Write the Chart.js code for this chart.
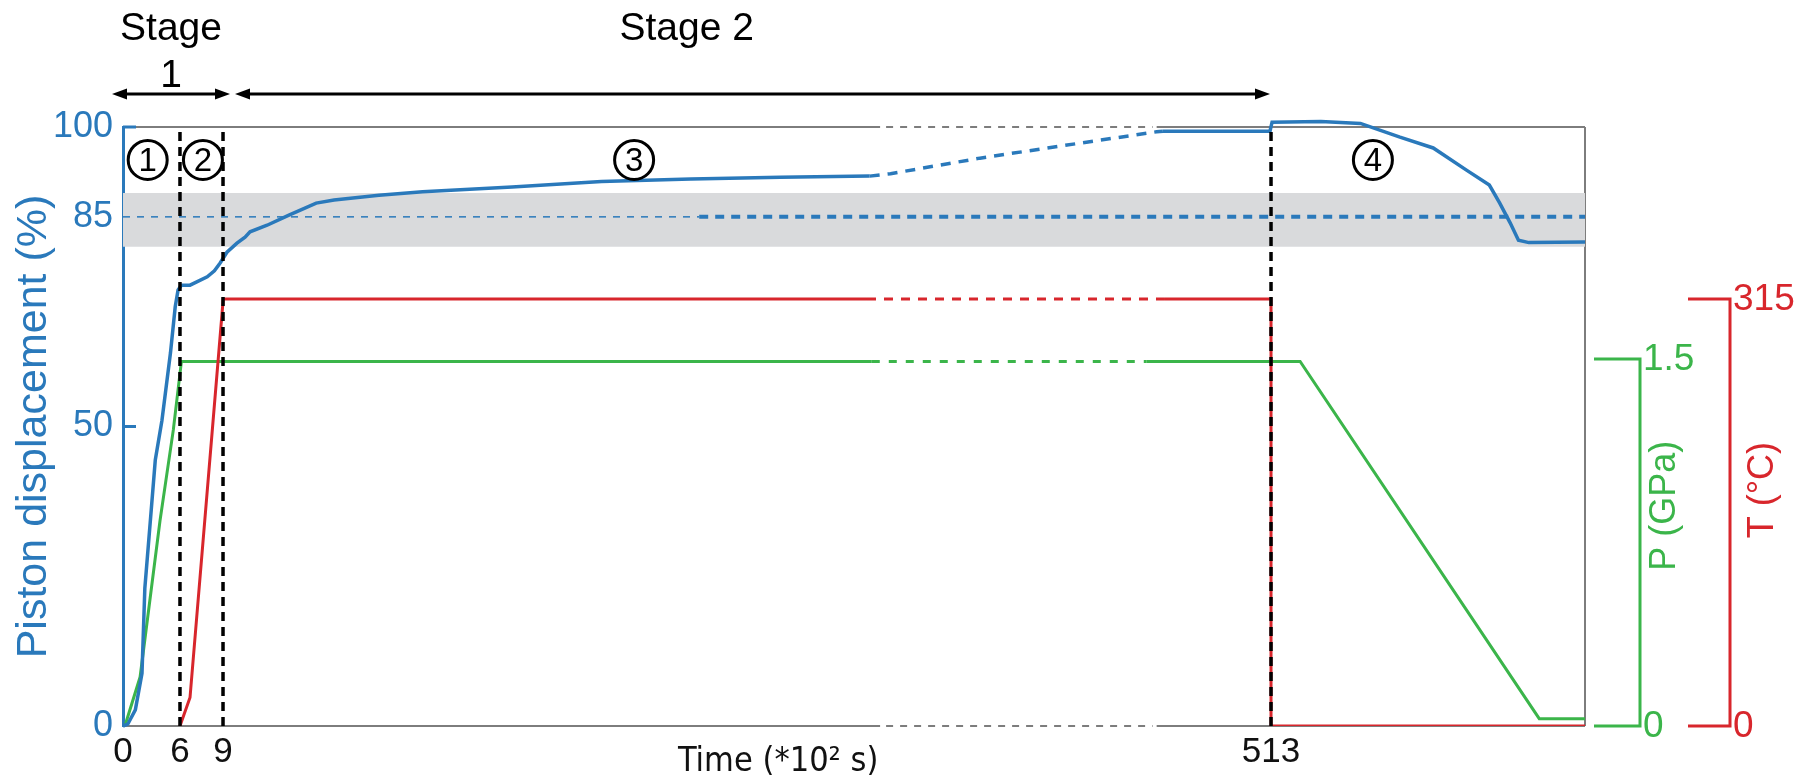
<!DOCTYPE html>
<html>
<head>
<meta charset="utf-8">
<title>Piston displacement, pressure and temperature</title>
<script src="https://cdn.jsdelivr.net/npm/chart.js@4.4.1/dist/chart.umd.min.js"></script>
<style>
  html, body { margin: 0; padding: 0; background: #fff; }
  #chart { display: block; }
</style>
</head>
<body>
<canvas id="chart" width="1812" height="778"></canvas>
<script>
// Broken time axis (*10^2 s): 0-6-9 stretched, long hold compressed
const TIME_BREAKS = [0, 6, 9, 664];
const AXIS_BREAKS = [0, 27.4, 48.1, 703.1];
const TIME_TICKS = [0, 6, 9, 513];
const TIME_GAP = [325, 458];     // part of the frame drawn dashed
const SERIES_GAP = [318, 462];   // part of the curves drawn dashed

const DISP_TICKS = [0, 50, 85, 100];
const PRESSURE_TICKS = [0, 1.5];
const TEMP_TICKS = [0, 315];

// Piston displacement (%)
const dispTime = [0, 0.5, 1.3, 2.0, 2.3, 2.8, 3.4, 4.1, 5.0, 5.5, 5.8, 6.1, 6.7, 7.9, 8.4, 8.8,
  10.9, 15.7, 19.6, 22, 30.2, 40.7, 53.8, 62.4, 84, 105, 148, 191, 234, 277, 320,
  330, 373, 421, 458, 461, 512.5, 513.5, 537, 556, 575, 591, 607, 618, 623, 628, 632, 637, 664];
const dispValue = [0, 0.3, 2.7, 8.8, 23, 32.7, 44.4, 51, 62.3, 70, 72.8, 73.6, 73.6, 75, 76, 77.3,
  79.1, 80.6, 81.6, 82.5, 83.6, 85.3, 87.3, 87.8, 88.6, 89.2, 90.0, 90.9, 91.3, 91.6, 91.8,
  92.2, 94.8, 97.3, 99.2, 99.3, 99.3, 100.8, 100.9, 100.6, 98.3, 96.5, 92.8, 90.3, 87.3, 84, 81.1, 80.7, 80.8];

// Pressure (GPa)
const presTime = [0.2, 1.8, 3.9, 5.3, 6.1, 321, 453, 527, 642, 664];
const presValue = [0, 0.2, 0.84, 1.21, 1.49, 1.49, 1.49, 1.49, 0.03, 0.03];

// Temperature (°C)
const tempTime = [6, 6.7, 9.1, 318.7, 462, 513, 513, 664];
const tempValue = [0, 21, 315, 315, 315, 315, 0, 0];

// 85 % level, grey band, stage boundaries
const refLevel = 85;
const refBreak = 238;
const bandRange = [80, 89];
const stageMarks = [6, 9, 513];
const stageBounds = [0, 9, 513];
const phaseLabels = ['1', '2', '3', '4'];
const phaseTimes = [2.6, 7.6, 206.7, 562];
const phaseLevel = 94.5;

const BLUE = '#2a79bb';
const GREEN = '#3bb54a';
const RED = '#d8262c';
const FONT = "'Liberation Sans', Arial, Helvetica, sans-serif";
const NARROW = "'Liberation Sans Narrow', 'DejaVu Sans Condensed', Arial, sans-serif";

function warp(t) {
  for (let i = 1; i < TIME_BREAKS.length; i++) {
    if (t <= TIME_BREAKS[i] || i === TIME_BREAKS.length - 1) {
      const f = (t - TIME_BREAKS[i - 1]) / (TIME_BREAKS[i] - TIME_BREAKS[i - 1]);
      return AXIS_BREAKS[i - 1] + f * (AXIS_BREAKS[i] - AXIS_BREAKS[i - 1]);
    }
  }
}

const toPoints = (ts, vs) => ts.map((t, i) => ({ x: warp(t), y: vs[i] }));
const inGap = c => c.p0.parsed.x >= warp(SERIES_GAP[0]) - 0.01 && c.p1.parsed.x <= warp(SERIES_GAP[1]) + 0.01;
const xMax = warp(TIME_BREAKS[TIME_BREAKS.length - 1]);

const datasets = [];

stageMarks.forEach(t => {
  datasets.push({
    data: [{ x: warp(t), y: 0 }, { x: warp(t), y: 100 }],
    borderColor: '#000', borderWidth: 3.5, borderDash: [9, 6], order: 0
  });
});

datasets.push({
  data: toPoints(dispTime, dispValue),
  borderColor: BLUE, borderWidth: 3.5, order: 1, clip: 12,
  segment: { borderDash: c => inGap(c) ? [10, 8] : undefined }
});
datasets.push({
  data: toPoints(tempTime, tempValue), yAxisID: 'yT',
  borderColor: RED, borderWidth: 3, order: 2,
  segment: { borderDash: c => inGap(c) ? [9, 8] : undefined }
});
datasets.push({
  data: toPoints(presTime, presValue), yAxisID: 'yP',
  borderColor: GREEN, borderWidth: 3, order: 3,
  segment: { borderDash: c => inGap(c) ? [8, 9] : undefined }
});
datasets.push({
  data: [{ x: 0, y: refLevel }, { x: warp(refBreak), y: refLevel }, { x: xMax, y: refLevel }],
  borderColor: BLUE, borderWidth: 1.5, borderDash: [7, 7], order: 4,
  segment: {
    borderWidth: c => c.p0.parsed.x >= warp(refBreak) ? 4 : undefined,
    borderDash: c => c.p0.parsed.x >= warp(refBreak) ? [9, 7] : undefined
  }
});
datasets.push({
  data: [{ x: 0, y: bandRange[1] }, { x: xMax, y: bandRange[1] }],
  borderWidth: 0, fill: { value: bandRange[0] }, backgroundColor: '#d9dadc', order: 9
});

function line(ctx, x0, y0, x1, y1) {
  ctx.beginPath(); ctx.moveTo(x0, y0); ctx.lineTo(x1, y1); ctx.stroke();
}

function arrow(ctx, x0, x1, y) {
  ctx.lineWidth = 3;
  line(ctx, x0 + 8, y, x1 - 8, y);
  [[x0, 1], [x1, -1]].forEach(([x, d]) => {
    ctx.beginPath();
    ctx.moveTo(x, y); ctx.lineTo(x + d * 15, y - 5.5); ctx.lineTo(x + d * 15, y + 5.5);
    ctx.closePath(); ctx.fill();
  });
}

function drawFrame(chart) {
  const { ctx, chartArea: a, scales: { x } } = chart;
  const g0 = x.getPixelForValue(warp(TIME_GAP[0]));
  const g1 = x.getPixelForValue(warp(TIME_GAP[1]));
  ctx.save();
  ctx.strokeStyle = '#7d7d7d';
  ctx.lineWidth = 2;
  [a.top, a.bottom].forEach(y => {
    line(ctx, a.left, y, g0, y);
    line(ctx, g1, y, a.right, y);
    ctx.setLineDash([7, 7]);
    line(ctx, g0 + 6, y, g1 - 4, y);
    ctx.setLineDash([]);
  });
  line(ctx, a.right, a.top, a.right, a.bottom);
  ctx.restore();
}

function drawLeftTicks(chart) {
  const { ctx, chartArea: a, scales: { y } } = chart;
  ctx.save();
  ctx.strokeStyle = BLUE;
  ctx.lineWidth = 3;
  [50, 100].forEach(v => {
    const py = y.getPixelForValue(v);
    line(ctx, a.left, py, a.left + 13, py);
  });
  ctx.restore();
}

function drawBracket(ctx, scale, ticks, x0, x1, color, title, titleAt, titleX) {
  const yTop = scale.getPixelForValue(ticks[ticks.length - 1]);
  const yBot = scale.getPixelForValue(ticks[0]);
  ctx.save();
  ctx.strokeStyle = color;
  ctx.fillStyle = color;
  ctx.lineWidth = 3;
  ctx.beginPath();
  ctx.moveTo(x0, yTop); ctx.lineTo(x1, yTop); ctx.lineTo(x1, yBot); ctx.lineTo(x0, yBot);
  ctx.stroke();
  ctx.font = '37px ' + FONT;
  ctx.textAlign = 'left';
  ctx.textBaseline = 'middle';
  ticks.forEach(v => ctx.fillText(String(v), x1 + 3, scale.getPixelForValue(v) + 1));
  ctx.font = '36px ' + FONT;
  ctx.translate(titleX, scale.getPixelForValue(titleAt));
  ctx.rotate(-Math.PI / 2);
  ctx.textAlign = 'center';
  ctx.fillText(title, 0, 0);
  ctx.restore();
}

function drawStages(chart) {
  const { ctx, chartArea: a, scales: { x } } = chart;
  const px = t => x.getPixelForValue(warp(t));
  const ay = a.top - 33;
  ctx.save();
  ctx.fillStyle = '#000';
  ctx.strokeStyle = '#000';
  arrow(ctx, px(stageBounds[0]) - 11, px(stageBounds[1]) + 7, ay);
  arrow(ctx, px(stageBounds[1]) + 12, px(stageBounds[2]) - 1, ay);
  ctx.font = '39px ' + FONT;
  ctx.textAlign = 'center';
  ctx.textBaseline = 'alphabetic';
  const c1 = (px(stageBounds[0]) + px(stageBounds[1])) / 2 - 2;
  ctx.fillText('Stage', c1, a.top - 87);
  ctx.fillText('1', c1, a.top - 40);
  ctx.fillText('Stage 2', px(232), a.top - 87);
  ctx.restore();
}

function drawPhases(chart) {
  const { ctx, scales: { x, y } } = chart;
  ctx.save();
  ctx.strokeStyle = '#000';
  ctx.fillStyle = '#000';
  ctx.lineWidth = 3;
  ctx.font = '33px ' + FONT;
  ctx.textAlign = 'center';
  ctx.textBaseline = 'middle';
  phaseLabels.forEach((lab, i) => {
    const cx = x.getPixelForValue(warp(phaseTimes[i]));
    const cy = y.getPixelForValue(phaseLevel);
    ctx.beginPath();
    ctx.arc(cx, cy, 19.5, 0, Math.PI * 2);
    ctx.stroke();
    ctx.fillText(lab, cx, cy + 2);
  });
  ctx.restore();
}

function drawTimeTitle(chart) {
  const { ctx, scales: { x } } = chart;
  ctx.save();
  ctx.fillStyle = '#111';
  ctx.font = '34px ' + NARROW;
  ctx.textAlign = 'center';
  ctx.textBaseline = 'alphabetic';
  ctx.fillText('Time (*10² s)', x.getPixelForValue(warp(276)), 771);
  ctx.restore();
}

const decor = {
  id: 'decor',
  beforeDatasetsDraw(chart) { drawFrame(chart); },
  afterDatasetsDraw(chart) { drawLeftTicks(chart); },
  afterDraw(chart) {
    const { ctx, chartArea: a, scales } = chart;
    drawBracket(ctx, scales.yP, PRESSURE_TICKS, a.right + 9, a.right + 55, GREEN, 'P (GPa)', 0.9, a.right + 80);
    drawBracket(ctx, scales.yT, TEMP_TICKS, a.right + 103, a.right + 145, RED, 'T (°C)', 174, a.right + 178);
    drawStages(chart);
    drawPhases(chart);
    drawTimeTitle(chart);
  }
};

new Chart(document.getElementById('chart'), {
  type: 'line',
  data: { datasets },
  options: {
    responsive: false,
    animation: false,
    layout: { padding: { left: 0, top: 127, right: 227, bottom: 0 } },
    elements: { point: { radius: 0 }, line: { tension: 0, borderCapStyle: 'butt' } },
    plugins: { legend: { display: false }, tooltip: { enabled: false } },
    scales: {
      x: {
        type: 'linear', min: 0, max: xMax,
        afterBuildTicks: s => { s.ticks = TIME_TICKS.map(t => ({ value: warp(t) })); },
        afterFit: s => { s.height = 52; },
        ticks: {
          autoSkip: false, maxRotation: 0, padding: 5, color: '#111',
          font: { family: FONT, size: 35 },
          callback: (v, i) => String(TIME_TICKS[i])
        },
        grid: { display: false, drawTicks: false },
        border: { display: false }
      },
      y: {
        type: 'linear', min: 0, max: 100, position: 'left',
        afterBuildTicks: s => { s.ticks = DISP_TICKS.map(v => ({ value: v })); },
        afterFit: s => { s.width = 123; },
        ticks: { autoSkip: false, padding: 10, color: BLUE, font: { family: FONT, size: 36 } },
        grid: { display: false, drawTicks: false },
        border: { display: true, color: BLUE, width: 3 },
        title: {
          display: true, text: 'Piston displacement (%)', color: BLUE,
          font: { family: FONT, size: 43 }, padding: { top: 8, bottom: 0 }
        }
      },
      yP: { type: 'linear', min: 0, max: 2.448, display: false },
      yT: { type: 'linear', min: 0, max: 441.9, display: false }
    }
  },
  plugins: [decor]
});
</script>
</body>
</html>
